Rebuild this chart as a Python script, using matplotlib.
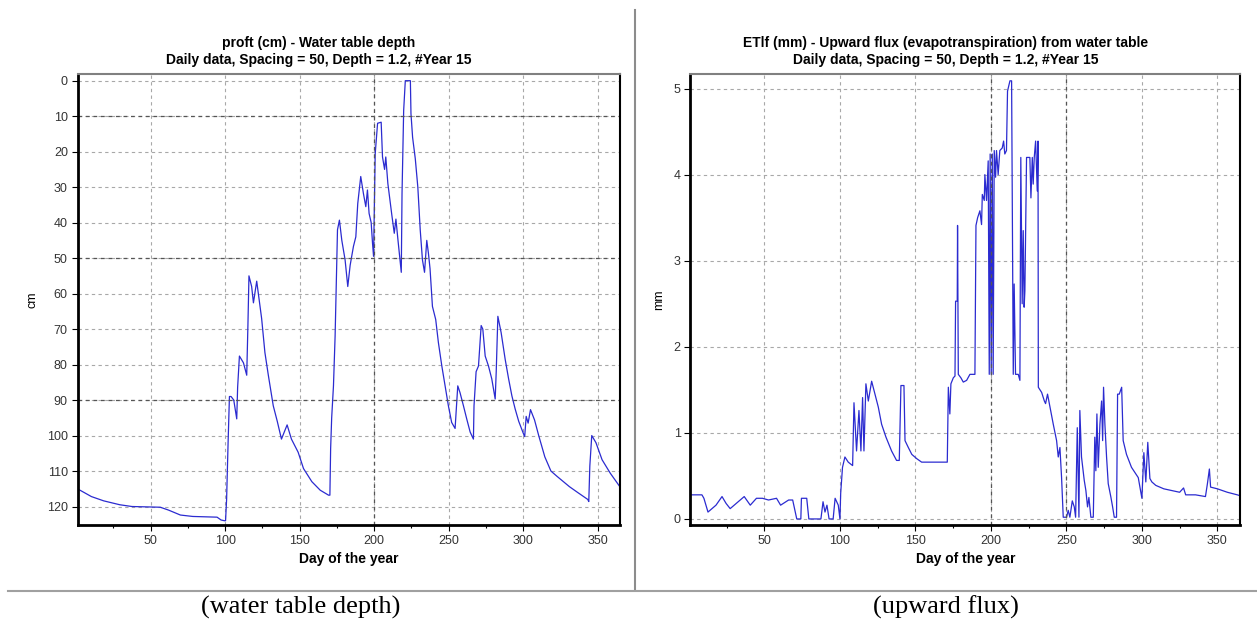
import matplotlib
matplotlib.use('Agg')
import matplotlib.pyplot as plt
from matplotlib.lines import Line2D
from matplotlib.ticker import MultipleLocator

plt.rcParams['font.family'] = ['Liberation Sans', 'DejaVu Sans']

# water table depth (cm)
depth_days = [1, 2.2, 10.3, 18.5, 29.3, 37.5, 56.5, 62, 70, 78.3, 94.6, 97.3, 99.5, 100.3,
              101, 102, 102.9, 104, 105.8, 107.8, 108.4, 109.6, 112.3, 114.5, 115.3, 116, 117.8,
              119, 121.2, 124.5, 126.7, 129, 132.3, 135, 137.8, 141.6, 144.5, 149, 152.6, 158.2,
              163.8, 169.4, 170.3, 170.8, 171.5, 172.7, 173.8, 175.4, 176.7, 178.3, 180.5, 181.6,
              182.3, 183.9, 186.1, 187.7, 189, 191, 192.8, 194.4, 195.5, 196.6, 198, 198.9, 199.6,
              200.7, 202.3, 204.7, 205.6, 207, 207.8, 209.2, 211.9, 213.5, 214.6, 216, 218.2,
              218.7, 219.8, 220.9, 224.3, 224.7, 225.8, 227.6, 229.3, 230.9, 232.4, 233.8, 235.3,
              236.4, 237.5, 239.1, 241.3, 243.1, 245.4, 247.6, 249.8, 252, 254.3, 256.1, 257.6,
              259.9, 262.1, 264.4, 266.6, 267, 268.4, 270, 271.8, 272.9, 274.5, 276.7, 278.9,
              281.2, 281.9, 283, 285.2, 287.9, 290.2, 292.4, 294.6, 297, 300, 301, 302, 303.3,
              304.9, 307.6, 310.4, 314.5, 318.6, 322.7, 331, 336.4, 343.3, 344, 344.7, 346, 348.8,
              352.9, 358.4, 365]
depth_cm = [115, 115.3, 117.2, 118.4, 119.5, 120, 120.2, 121, 122.4, 122.8, 123, 123.8, 124, 124,
            118, 102, 89, 89, 90, 95.3, 86.4, 77.6, 79.5, 83, 69, 55, 58,
            62.6, 56.5, 67, 76.6, 83, 91.6, 96, 101, 97, 101, 104.7, 109.3, 113,
            115.4, 116.8, 116.8, 103.7, 95, 86, 72, 42, 39.3, 45, 50.5, 55,
            58, 52, 46.7, 44, 34.6, 27, 31.8, 35.5, 30.8, 37.4, 40, 45.8, 49.5,
            20.6, 12, 11.7, 21.5, 25, 21.5, 29, 38, 43, 39, 45, 54,
            31.8, 8.4, 0, 0, 9.3, 16, 22, 30, 42, 50.5, 54, 45,
            48.6, 53, 63.6, 67.3, 73.8, 80.4, 86, 91.6, 96.3, 98, 86, 87.9,
            91.6, 95.3, 99, 101, 91.6, 82, 80.4, 69, 70, 77.6, 80.4, 84,
            89.7, 82, 66.4, 71, 78.5, 84, 88.8, 92.5, 96, 99.3, 100.3, 94.6, 96.5,
            92.7, 95.6, 100, 106, 110, 111.5, 114.4, 116, 118, 118.6, 108.6, 100, 102,
            106.8, 110.6, 114.5]

# upward flux (mm)
flux_days = [1, 8.6, 9.9, 12.6, 15.2, 17.9, 21.9, 24.6, 27.3, 31.3, 36.6, 40.6, 44.7, 48.7, 52.7,
             58, 60.7, 66, 68.7, 71.4, 74.1, 74.5, 78, 79.4, 87.4, 88.8, 90.1, 91.4, 92.8, 95.5,
             96.8, 98.9, 100, 100.5, 101.7, 103.3, 105.5, 108.4, 109.3, 111, 112.6, 113.9, 115,
             115.9, 117.2, 118.8, 121, 123.2, 125.4, 127.6, 130.5, 134.2, 137.5, 139.3, 140.4,
             142.4, 143.1, 145.3, 147.6, 150.9, 154.1, 171.1, 171.8, 172.8, 173.5, 175.1, 176.2,
             176.6, 177.7, 177.9, 178.4, 180.1, 181.7, 183.9, 186.1, 189.4, 190.1, 191.2, 192.7,
             193.8, 194.3, 195.6, 196, 197.1, 198.2, 198.9, 199.5, 200.2, 200.9, 201.5, 202.2,
             203.1, 203.7, 204.8, 205.9, 207.5, 208.4, 209.2, 210.3, 211, 212.6, 213.7, 214.1,
             214.8, 215.4, 216.3, 218.1, 219.2, 219.8, 220.7, 221.4, 222, 222.5, 223.6, 225.8,
             226.5, 227.4, 228, 228.7, 229.6, 230.7, 231.2, 231.4, 233.6, 235.4, 236.2, 237.5,
             239.1, 241.3, 243.5, 244.6, 245.7, 246.8, 247.9, 250.1, 251.2, 252.3, 253.9, 255.2,
             256.1, 257.2, 258.3, 258.9, 260, 261.8, 262.9, 264, 264.9, 266.2, 267.8, 268.8,
             269.5, 270.2, 271.1, 272.2, 273.3, 274, 274.6, 275.5, 276.6, 277.7, 279.5, 280.6,
             281.7, 283.2, 283.9, 285, 286.6, 287.6, 289.8, 293.1, 297.6, 300, 301.3, 302.6,
             303.9, 305.3, 306.6, 309.2, 314.5, 319.7, 325, 327.6, 329, 335.5, 342.1, 343.4,
             344.7, 345.5, 350, 356.6, 363.2, 365]
flux_mm = [0.28, 0.28, 0.24, 0.08, 0.12, 0.16, 0.26, 0.18, 0.12, 0.18, 0.26, 0.16, 0.24, 0.24, 0.22,
           0.24, 0.16, 0.22, 0.22, 0, 0, 0.24, 0.24, 0, 0, 0.2, 0.08, 0.16, 0, 0,
           0.24, 0.16, 0, 0.3, 0.6, 0.72, 0.66, 0.62, 1.35, 0.79, 1.26, 0.79, 1.41,
           0.79, 1.57, 1.37, 1.6, 1.45, 1.3, 1.1, 0.95, 0.79, 0.68, 0.68, 1.55,
           1.55, 0.91, 0.83, 0.75, 0.70, 0.66, 0.66, 1.53, 1.22, 1.57, 1.64, 1.66,
           2.53, 2.53, 3.41, 1.68, 1.64, 1.59, 1.61, 1.68, 1.68, 3.41, 3.5, 3.58,
           3.42, 3.77, 3.7, 4.0, 3.7, 4.16, 1.68, 4.24, 1.68, 4.24, 1.68, 4.28,
           3.97, 4.28, 4.0, 4.28, 4.31, 4.39, 4.24, 4.28, 4.97, 5.09, 5.09, 3.81,
           1.68, 2.73, 1.68, 1.68, 1.61, 4.2, 2.5, 3.35, 2.46, 2.65, 4.2, 4.2,
           3.73, 4.2, 3.89, 4.2, 4.39, 3.81, 4.39, 1.53, 1.47, 1.37, 1.34, 1.45,
           1.3, 1.1, 0.91, 0.72, 0.83, 0.48, 0.02, 0.02, 0.1, 0.02, 0.21, 0.14,
           0.02, 1.06, 0.02, 1.26, 0.72, 0.45, 0.33, 0.14, 0.25, 0.02, 0.02, 0.95,
           0.56, 1.22, 0.6, 1.1, 1.37, 0.91, 1.53, 1.1, 0.72, 0.41, 0.25, 0.14,
           0.02, 0.02, 1.45, 1.45, 1.53, 0.91, 0.75, 0.6, 0.48, 0.24, 0.77, 0.43,
           0.89, 0.47, 0.43, 0.39, 0.35, 0.33, 0.31, 0.36, 0.28, 0.28, 0.26, 0.41,
           0.58, 0.37, 0.35, 0.31, 0.28, 0.27]

sub = 'Daily data, Spacing = 50, Depth = 1.2, #Year 15'
line_col = '#2b2bd0'
grid_kw = dict(color='#a8a8a8', lw=0.8, ls=(0, (3, 3)))
dark_kw = dict(color='#555555', lw=0.9, ls=(0, (3, 3)))

fig = plt.figure(figsize=(12.57, 6.24), dpi=100)


def style_axes(ax):
    ax.spines['left'].set_linewidth(2.0)
    ax.spines['bottom'].set_linewidth(2.0)
    ax.spines['top'].set_color('#808080')
    ax.spines['top'].set_linewidth(1.5)
    ax.spines['right'].set_linewidth(1.5)
    ax.set_xlim(1, 365)
    ax.xaxis.set_major_locator(MultipleLocator(50))
    ax.xaxis.set_minor_locator(MultipleLocator(25))
    ax.tick_params(which='major', length=4, width=0.8, labelsize=9, labelcolor='#333333', pad=3)
    ax.tick_params(axis='x', which='minor', length=2.5, width=0.8)
    ax.tick_params(axis='y', which='minor', length=0)
    ax.grid(True, which='major', **grid_kw)
    ax.axvline(200, **dark_kw)
    ax.set_axisbelow(True)
    ax.set_xlabel('Day of the year', fontsize=10, fontweight='bold', labelpad=4)


# left panel: water table depth
ax1 = fig.add_axes([0.0617, 0.1587, 0.4316, 0.7228])
ax1.plot(depth_days, depth_cm, color=line_col, lw=0.9)
ax1.set_ylim(125.2, -1.9)
ax1.set_yticks(range(0, 121, 10))
style_axes(ax1)
for yv in (10, 50, 90):
    ax1.axhline(yv, **dark_kw)
ax1.set_ylabel('cm', fontsize=9, labelpad=6)

# right panel: upward flux
ax2 = fig.add_axes([0.5493, 0.1587, 0.4372, 0.7228])
ax2.plot(flux_days, flux_mm, color=line_col, lw=0.9)
ax2.set_ylim(-0.07, 5.17)
ax2.set_yticks(range(0, 6))
style_axes(ax2)
ax2.axvline(250, **dark_kw)
ax2.set_ylabel('mm', fontsize=9, labelpad=6)

# titles centred on each panel
fig.text(0.2538, 0.9316, 'proft (cm) - Water table depth', ha='center', va='center',
         fontsize=10, fontweight='bold')
fig.text(0.2538, 0.9038, sub, ha='center', va='center', fontsize=10, fontweight='bold')
fig.text(0.7526, 0.9316, 'ETlf (mm) - Upward flux (evapotranspiration) from water table',
         ha='center', va='center', fontsize=10, fontweight='bold')
fig.text(0.7526, 0.9038, sub, ha='center', va='center', fontsize=10, fontweight='bold')

# separators and captions
fig.add_artist(Line2D([0.505, 0.505], [0.984, 0.0545], transform=fig.transFigure,
                      color='#8c8c8c', lw=1.5))
fig.add_artist(Line2D([0.0064, 1.0], [0.0529, 0.0529], transform=fig.transFigure,
                      color='#a0a0a0', lw=1.5))
fig.text(0.2395, 0.027, '(water table depth)', ha='center', va='center',
         fontsize=19, family='Liberation Serif')
fig.text(0.7526, 0.027, '(upward flux)', ha='center', va='center',
         fontsize=19, family='Liberation Serif')

fig.savefig('out.png', dpi=100)
